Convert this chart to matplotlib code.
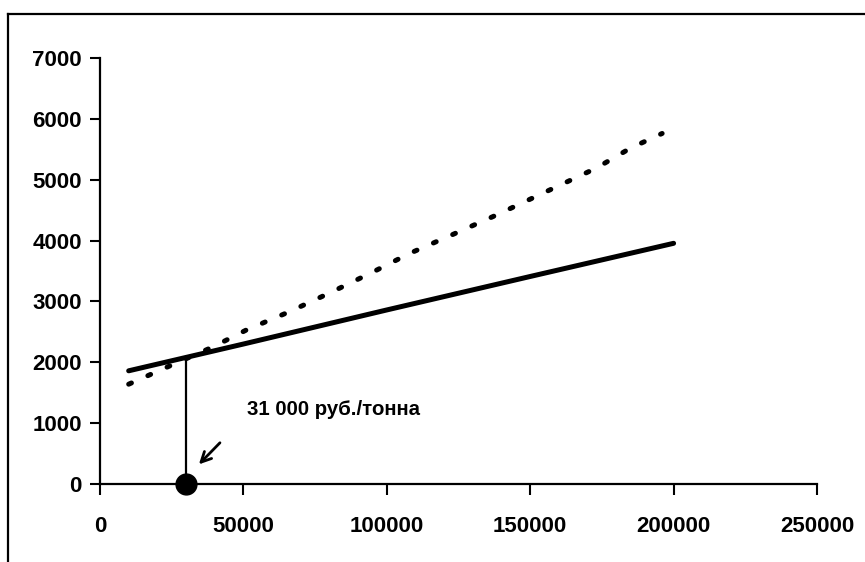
import matplotlib
matplotlib.use("Agg")
import matplotlib.pyplot as plt
from matplotlib.lines import Line2D

# ---- data ----
solid_x = [10000, 50000, 100000, 150000, 200000]
solid_y = [1860, 2300, 2860, 3410, 3955]

dotted_x = [10000, 25500, 39500, 51000, 66000, 81000, 95000, 108000,
            123000, 138000, 145000, 159000, 173000, 185000, 196000]
dotted_y = [1640, 1965, 2255, 2530, 2830, 3160, 3480, 3790,
            4100, 4415, 4570, 4880, 5190, 5520, 5760]

threshold_x = 30000
threshold_y = 2080
label_text = "31 000 руб./тонна"

x_ticks = [0, 50000, 100000, 150000, 200000, 250000]
y_ticks = [0, 1000, 2000, 3000, 4000, 5000, 6000, 7000]

plt.rcParams['font.family'] = ['Liberation Sans', 'DejaVu Sans']

fig = plt.figure(figsize=(8.65, 5.62), dpi=100)
ax = fig.add_axes([100/865, 1 - 484/562, 717/865, 426/562])

ax.plot(solid_x, solid_y, color='black', lw=3.6, solid_capstyle='round')
ax.plot(dotted_x, dotted_y, color='black', lw=3.6, dashes=(0.6, 3.6),
        dash_capstyle='round')
ax.plot([threshold_x, threshold_x], [0, threshold_y], color='black', lw=1.6)
ax.plot([threshold_x], [0], 'o', color='black', markersize=15, clip_on=False, zorder=5)

ax.annotate('', xy=(33800, 290), xytext=(42500, 710),
            arrowprops=dict(arrowstyle='->', lw=2, color='black',
                            mutation_scale=18))
ax.text(51300, 1216, label_text, fontsize=14.7, fontweight='bold',
        va='center', ha='left')

ax.set_xlim(0, 250000)
ax.set_ylim(0, 7000)
ax.set_xticks(x_ticks)
ax.set_yticks(y_ticks)
ax.set_xticklabels([str(v) for v in x_ticks], fontsize=16, fontweight='bold')
ax.set_yticklabels([str(v) for v in y_ticks], fontsize=16, fontweight='bold')
ax.tick_params(axis='x', direction='out', length=8, width=1.5, pad=15)
ax.tick_params(axis='y', direction='out', length=7, width=1.5, pad=6)
for s in ['top', 'right']:
    ax.spines[s].set_visible(False)
for s in ['left', 'bottom']:
    ax.spines[s].set_linewidth(1.6)

# outer frame
fig.add_artist(Line2D([8/865, 8/865], [0, 1 - 14/562], color='black', lw=1.6,
                      transform=fig.transFigure))
fig.add_artist(Line2D([8/865, 1], [1 - 14/562, 1 - 14/562], color='black', lw=1.6,
                      transform=fig.transFigure))

fig.savefig('out.png', dpi=100)
